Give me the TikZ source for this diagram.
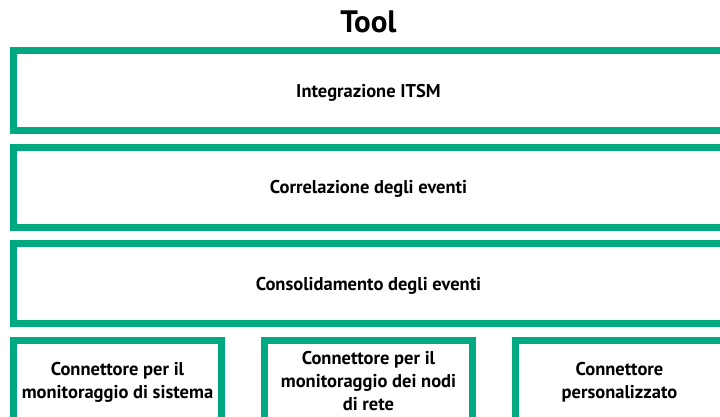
\documentclass[tikz,border=0pt]{standalone}
\usepackage{fontspec}
\setmainfont{PT Sans}
\usetikzlibrary{positioning}
\definecolor{hpegreen}{HTML}{01A982}

\begin{document}
\begin{tikzpicture}[x=1pt, y=-1pt]
	\tikzset {node distance=9.7pt and 36pt,
		layer/.style={draw=hpegreen, line width=7pt, minimum width=710pt, minimum height=80pt, inner sep=2pt, text depth=0pt, font=\bfseries\fontsize{18.5}{23}\selectfont, align=center},
		conn/.style={layer, minimum width=208pt},
		title/.style={font=\bfseries\fontsize{31}{33}\selectfont} }

	\useasboundingbox (0,0) rectangle (720,416);
	\clip (0,0) rectangle (720,416);

	\node[title] (tool) at (368.5,22) {Tool};

	\node[layer] (itsm) at (368.5,90.5) {Integrazione ITSM};
	\node[layer, below=of itsm] (corr) {Correlazione degli eventi};
	\node[layer, below=of corr] (cons) {Consolidamento degli eventi};

	\node[conn, below=of cons.south west, anchor=north west] (sys) {Connettore per il\\monitoraggio di sistema};
	\node[conn, right=of sys] (net) {Connettore per il\\monitoraggio dei nodi\\di rete};
	\node[conn, right=of net] (cust) {Connettore\\personalizzato};
\end{tikzpicture}
\end{document}
